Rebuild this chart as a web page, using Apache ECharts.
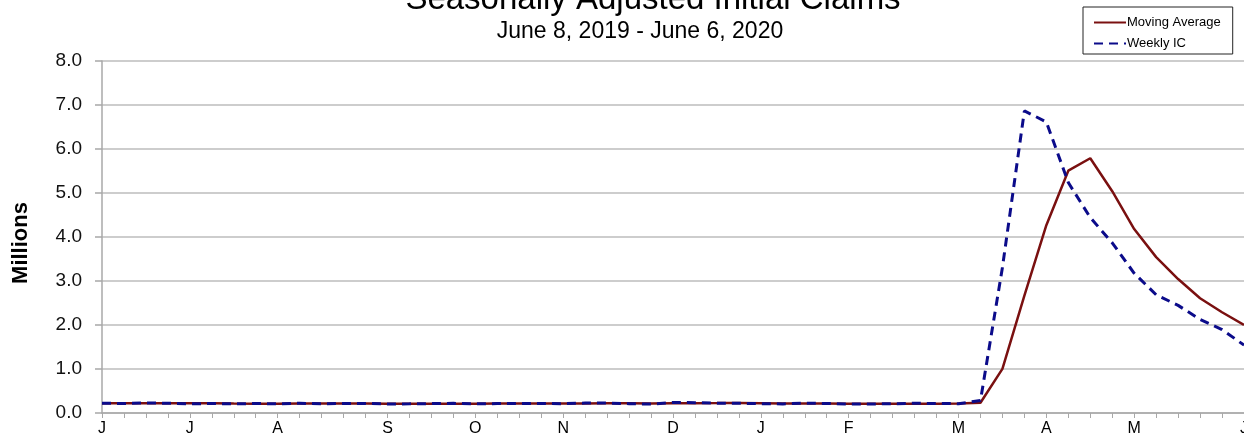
<!DOCTYPE html>
<html>
<head>
<meta charset="utf-8">
<script src="https://cdn.jsdelivr.net/npm/echarts@6/dist/echarts.min.js"></script>
<style>
  html, body { margin: 0; padding: 0; background: #ffffff; }
  #chart { width: 1244px; height: 435px; }
</style>
</head>
<body>
<div id="chart"></div>
<script>
// Week-ending dates (June 8, 2019 - June 6, 2020)
const weeks = [
  '2019-06-08','2019-06-15','2019-06-22','2019-06-29','2019-07-06','2019-07-13','2019-07-20','2019-07-27',
  '2019-08-03','2019-08-10','2019-08-17','2019-08-24','2019-08-31','2019-09-07','2019-09-14','2019-09-21',
  '2019-09-28','2019-10-05','2019-10-12','2019-10-19','2019-10-26','2019-11-02','2019-11-09','2019-11-16',
  '2019-11-23','2019-11-30','2019-12-07','2019-12-14','2019-12-21','2019-12-28','2020-01-04','2020-01-11',
  '2020-01-18','2020-01-25','2020-02-01','2020-02-08','2020-02-15','2020-02-22','2020-02-29','2020-03-07',
  '2020-03-14','2020-03-21','2020-03-28','2020-04-04','2020-04-11','2020-04-18','2020-04-25','2020-05-02',
  '2020-05-09','2020-05-16','2020-05-23','2020-05-30','2020-06-06'
];

// Month tick labels (first week of each month)
const tickDates   = ['2019-06-08','2019-07-06','2019-08-03','2019-09-07','2019-10-05','2019-11-02','2019-12-07','2020-01-04','2020-02-01','2020-03-07','2020-04-04','2020-05-02','2020-06-06'];
const tickLetters = ['J','J','A','S','O','N','D','J','F','M','A','M','J'];

// Millions
const movingAverage = [
  0.219,0.219,0.221,0.222,0.219,0.219,0.214,0.213,
  0.213,0.214,0.215,0.214,0.216,0.212,0.211,0.211,
  0.211,0.213,0.214,0.214,0.214,0.214,0.217,0.220,
  0.219,0.217,0.221,0.223,0.226,0.230,0.223,0.216,
  0.216,0.215,0.213,0.212,0.209,0.210,0.213,0.215,
  0.233,1.004,2.667,4.268,5.507,5.790,5.040,4.181,
  3.543,3.044,2.609,2.289,2.003
];

const weeklyIC = [
  0.222,0.217,0.227,0.222,0.209,0.216,0.208,0.217,
  0.209,0.221,0.211,0.215,0.217,0.204,0.208,0.213,
  0.219,0.210,0.214,0.213,0.218,0.211,0.225,0.227,
  0.213,0.203,0.240,0.235,0.224,0.220,0.212,0.207,
  0.223,0.217,0.203,0.205,0.211,0.220,0.217,0.211,
  0.282,3.307,6.867,6.615,5.237,4.442,3.867,3.176,
  2.687,2.446,2.126,1.897,1.542
];

const yTicks = [0,1,2,3,4,5,6,7,8];

const FONT = '"Liberation Sans", Arial, sans-serif';
const chart = echarts.init(document.getElementById('chart'), null, { renderer: 'canvas' });

chart.setOption({
  backgroundColor: '#ffffff',
  animation: false,
  title: [
    {
      text: 'Seasonally Adjusted Initial Claims',
      left: 653, textAlign: 'center', top: -17, padding: 0,
      textStyle: { fontFamily: FONT, fontSize: 33, fontWeight: 'normal', color: '#000' }
    },
    {
      text: 'June 8, 2019 - June 6, 2020',
      left: 640, textAlign: 'center', top: 20, padding: 0,
      textStyle: { fontFamily: FONT, fontSize: 23, fontWeight: 'normal', color: '#000' }
    }
  ],
  graphic: [
    {
      type: 'text',
      x: 21, y: 243,
      rotation: Math.PI / 2,
      style: {
        text: 'Millions',
        fontFamily: FONT, fontSize: 22, fontWeight: 'bold', fill: '#000',
        align: 'center', verticalAlign: 'middle'
      }
    }
  ],
  legend: {
    orient: 'vertical',
    left: 1083, top: 7,
    padding: [9, 12, 4, 10],
    itemWidth: 32, itemHeight: 12, itemGap: 8,
    borderColor: '#222', borderWidth: 1,
    itemStyle: { opacity: 0 },
    textStyle: { fontFamily: FONT, fontSize: 13, color: '#000', padding: [0, 0, 0, -4] },
    data: ['Moving Average', 'Weekly IC']
  },
  grid: { left: 102, right: 0, top: 61, bottom: 22, containLabel: false, outerBoundsMode: 'none' },
  xAxis: {
    type: 'category',
    data: weeks,
    boundaryGap: false,
    axisLine: { show: true, lineStyle: { color: '#a8a8a8', width: 1.5 } },
    axisTick: { show: true, interval: 0, length: 5, lineStyle: { color: '#a8a8a8', width: 1 } },
    axisLabel: {
      interval: 0, margin: 8, hideOverlap: false,
      fontFamily: FONT, fontSize: 16, color: '#000',
      formatter: function (v) { const i = tickDates.indexOf(v); return i >= 0 ? tickLetters[i] : ''; }
    },
    splitLine: { show: false }
  },
  yAxis: {
    type: 'value',
    min: yTicks[0], max: yTicks[yTicks.length - 1], interval: 1,
    axisLine: { show: true, lineStyle: { color: '#a8a8a8', width: 1.5 } },
    axisTick: { show: true, length: 7, lineStyle: { color: '#a8a8a8', width: 1.5 } },
    axisLabel: {
      margin: 20, fontFamily: FONT, fontSize: 19, color: '#111',
      formatter: function (v) { return v.toFixed(1); }
    },
    splitLine: { show: true, lineStyle: { color: '#bdbdbd', width: 1.5 } }
  },
  series: [
    {
      name: 'Moving Average',
      type: 'line',
      data: movingAverage,
      symbol: 'none',
      smooth: false,
      color: '#7a1010',
      lineStyle: { color: '#7a1010', width: 2.5 },
      z: 2
    },
    {
      name: 'Weekly IC',
      type: 'line',
      data: weeklyIC,
      symbol: 'none',
      smooth: false,
      color: '#0b0b8a',
      lineStyle: { color: '#0b0b8a', width: 3, type: [9, 6] },
      z: 3
    }
  ]
});
</script>
</body>
</html>
